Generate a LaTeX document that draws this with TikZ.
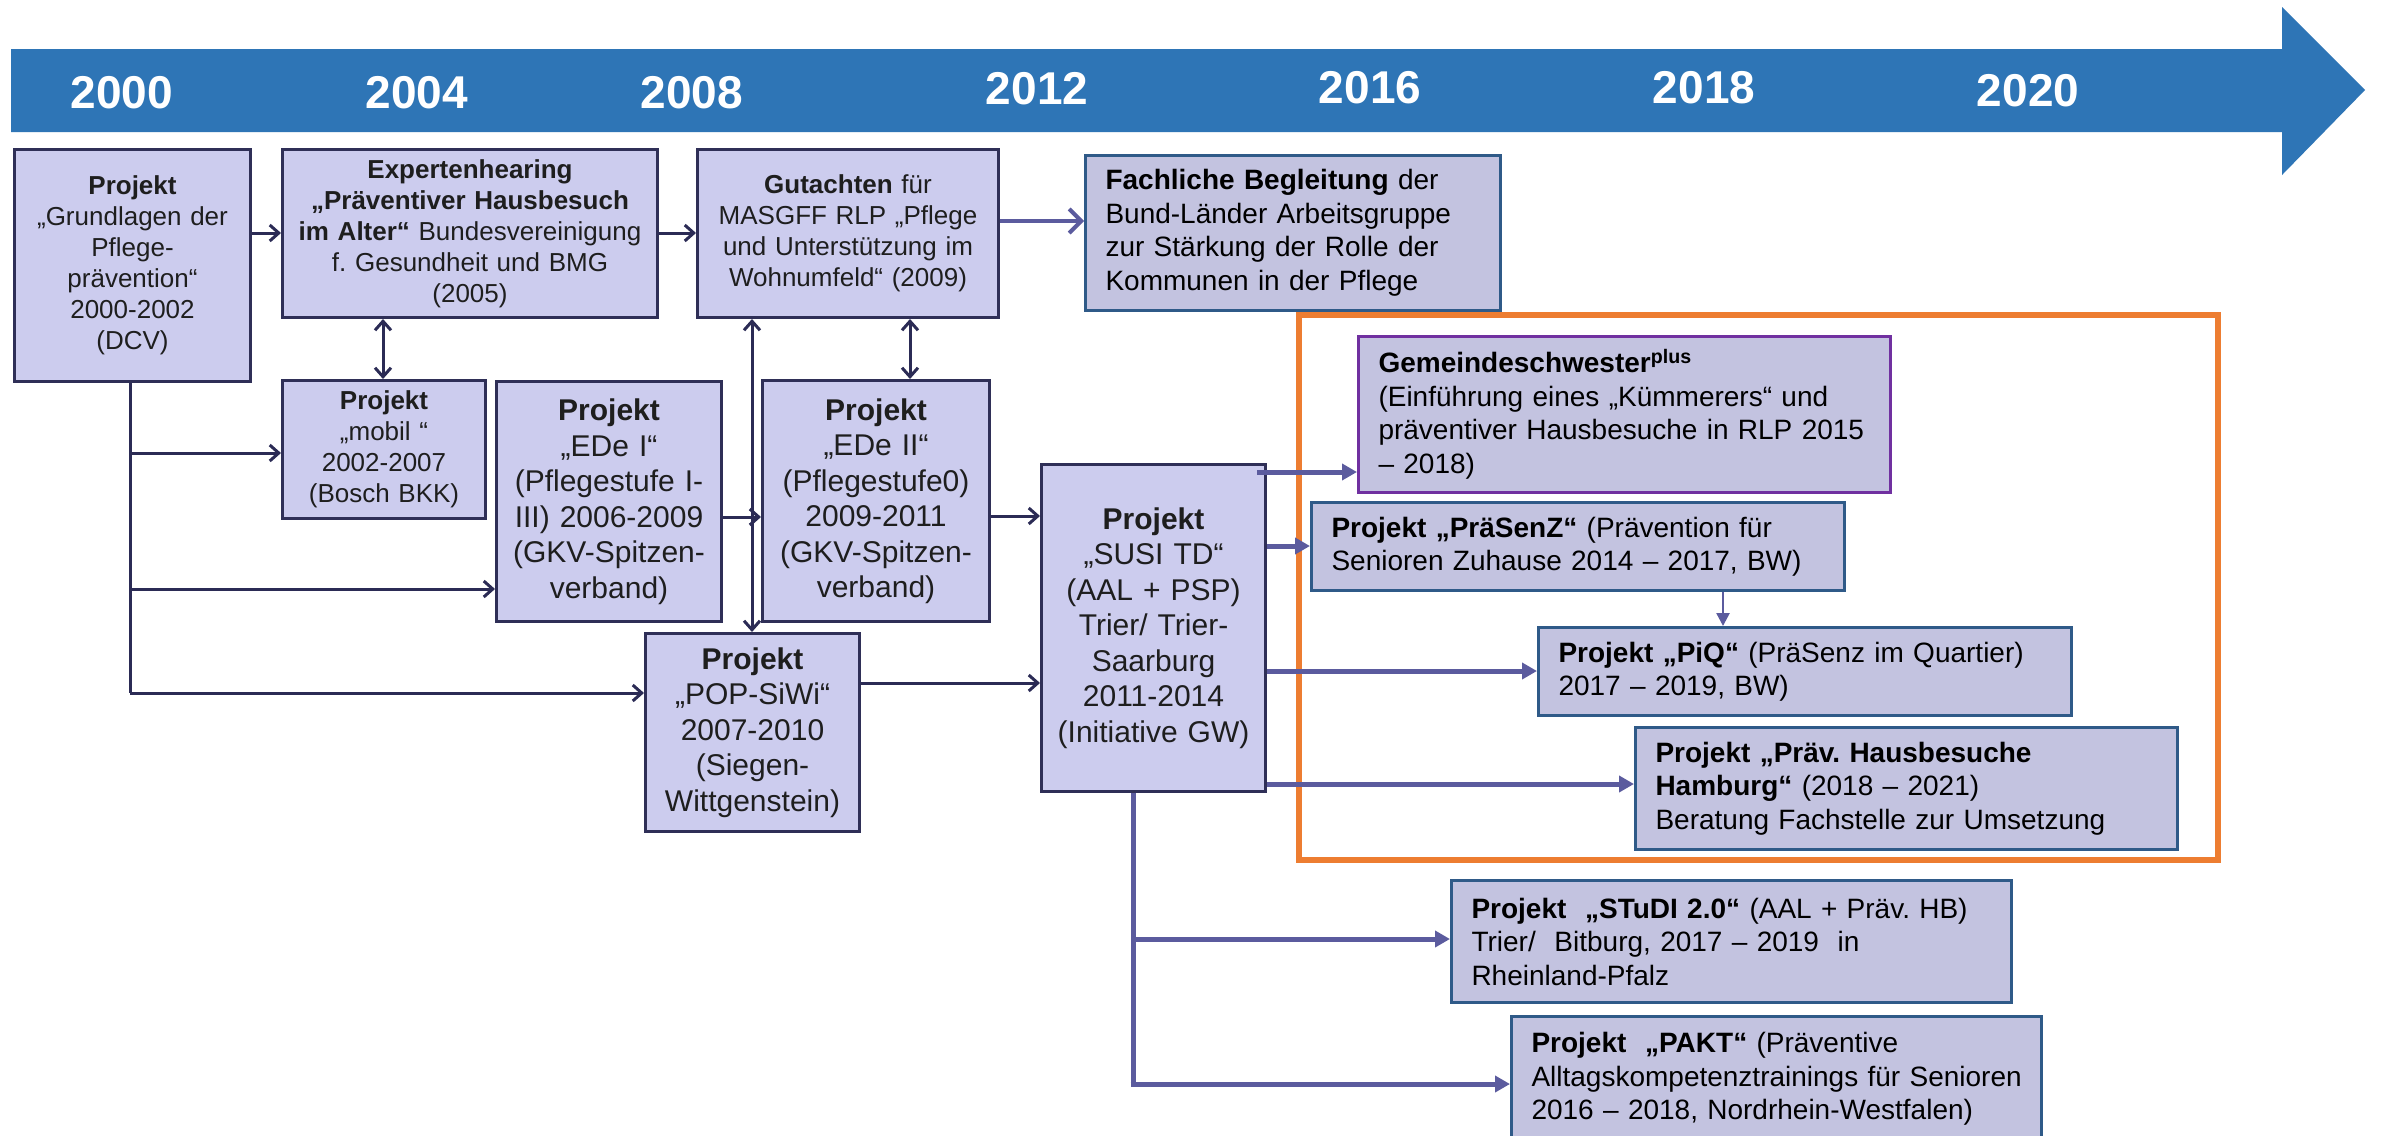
\documentclass[tikz,border=0pt]{standalone}
\usepackage{fontspec}
\setmainfont{Liberation Sans}
\usetikzlibrary{arrows.meta}
\frenchspacing
\hyphenpenalty=10000
\definecolor{banner}{HTML}{2E75B6}
\definecolor{oldfill}{HTML}{CCCCEE}
\definecolor{oldborder}{HTML}{2F2F57}
\definecolor{oldtext}{HTML}{1E1E1E}
\definecolor{oldline}{HTML}{2B2B55}
\definecolor{newfill}{HTML}{C3C3E0}
\definecolor{newborder}{HTML}{2F5A88}
\definecolor{purpleborder}{HTML}{7030A0}
\definecolor{orangeframe}{HTML}{ED7D31}
\definecolor{newline}{HTML}{5B5B9E}
\tikzset{
  year/.style={text=white, inner sep=0pt, font=\fontsize{46pt}{46pt}\selectfont\bfseries},
  oldbox/.style={draw=oldborder, line width=3pt, fill=oldfill, text=oldtext, inner sep=0pt,
    align=center, anchor=north west, font=\fontsize{26pt}{31pt}\selectfont},
  bigbox/.style={oldbox, font=\fontsize{30pt}{35.5pt}\selectfont},
  newbox/.style={draw=newborder, line width=3pt, fill=newfill, text=black, inner xsep=20pt,
    inner ysep=0pt, align=left, anchor=north west, font=\fontsize{28pt}{33.5pt}\selectfont},
  oldarrow/.style={draw=oldline, line width=3pt, -{Straight Barb[length=9pt,width=16pt]}},
  oldboth/.style={draw=oldline, line width=3pt, {Straight Barb[length=9pt,width=16pt]}-{Straight Barb[length=9pt,width=16pt]}},
  oldline/.style={draw=oldline, line width=3pt},
  cdarrow/.style={draw=newline, line width=4pt, -{Straight Barb[length=12pt,width=24pt]}},
  newarrow/.style={draw=newline, line width=5pt, -{Triangle[length=15pt,width=16pt]}},
  newlinestyle/.style={draw=newline, line width=5pt},
  thinarrow/.style={draw=newline, line width=2.5pt, -{Triangle[length=13pt,width=13pt]}},
  frame/.style={draw=orangeframe, line width=6pt}
}
\begin{document}
\begin{tikzpicture}[x=1pt,y=-1pt]
\useasboundingbox (0,0) rectangle (2384,1135);
\fill[white] (0,0) rectangle (2384,1135);

% timeline banner
\fill[banner] (11,49) -- (2282,49) -- (2282,7) -- (2365,90) -- (2282,175) -- (2282,132) -- (11,132) -- cycle;
\node[year] (y2000) at (122,93) {2000};
\node[year] (y2004) at (417,93) {2004};
\node[year] (y2008) at (692,93) {2008};
\node[year] (y2012) at (1037,89) {2012};
\node[year] (y2016) at (1370,88) {2016};
\node[year] (y2018) at (1704,88) {2018};
\node[year] (y2020) at (2028,91) {2020};

% orange frame
\draw[frame] (1299,315) rectangle (2218,860);

% old boxes
\node[oldbox, minimum width=236, minimum height=232, text width=232] (A) at (13,148)
  {\textbf{Projekt}\\„Grundlagen der\\Pflege-\\prävention“\\2000-2002\\(DCV)};
\node[oldbox, minimum width=375, minimum height=168, text width=371] (B) at (281,148)
  {\textbf{Expertenhearing}\\\textbf{„Präventiver Hausbesuch}\\\textbf{im Alter“} Bundesvereinigung\\f. Gesundheit und BMG\\(2005)};
\node[oldbox, minimum width=301, minimum height=168, text width=297] (C) at (696,148)
  {\textbf{Gutachten} für\\MASGFF RLP „Pflege\\und Unterstützung im\\Wohnumfeld“ (2009)};
\node[oldbox, minimum width=203, minimum height=138, text width=199] (E) at (281,379)
  {\textbf{Projekt}\\„mobil “\\2002-2007\\(Bosch BKK)};
\node[bigbox, minimum width=225, minimum height=240, text width=221] (F) at (495,380)
  {\textbf{Projekt}\\„EDe I“\\(Pflegestufe I-\\III) 2006-2009\\(GKV-Spitzen-\\verband)};
\node[bigbox, minimum width=227, minimum height=241, text width=223] (G) at (761,379)
  {\textbf{Projekt}\\„EDe II“\\(Pflegestufe0)\\2009-2011\\(GKV-Spitzen-\\verband)};
\node[bigbox, minimum width=214, minimum height=198, text width=210] (H) at (644,632)
  {\textbf{Projekt}\\„POP-SiWi“\\2007-2010\\(Siegen-\\Wittgenstein)};
\node[bigbox, minimum width=224, minimum height=327, text width=220] (I) at (1040,463)
  {\textbf{Projekt}\\„SUSI TD“\\(AAL + PSP)\\Trier/ Trier-\\Saarburg\\2011-2014\\(Initiative GW)};

% new boxes
\node[newbox, minimum width=415, minimum height=155, text width=375] (D) at (1084,154)
  {\textbf{Fachliche Begleitung} der\\Bund-Länder Arbeitsgruppe\\zur Stärkung der Rolle der\\Kommunen in der Pflege};
\node[newbox, draw=purpleborder, minimum width=532, minimum height=156, text width=492] (Gem) at (1357,335)
  {\textbf{Gemeindeschwester\textsuperscript{plus}}\\(Einführung eines „Kümmerers“ und\\\mbox{präventiver Hausbesuche in RLP 2015}\\– 2018)};
\node[newbox, minimum width=533, minimum height=88, text width=493] (Praesenz) at (1310,501)
  {\textbf{Projekt „PräSenZ“} (Prävention für\\Senioren Zuhause 2014 – 2017, BW)};
\node[newbox, minimum width=533, minimum height=88, text width=493] (PiQ) at (1537,626)
  {\textbf{Projekt „PiQ“} (PräSenz im Quartier)\\2017 – 2019, BW)};
\node[newbox, minimum width=542, minimum height=122, text width=502] (Hamburg) at (1634,726)
  {\textbf{Projekt „Präv. Hausbesuche}\\\textbf{Hamburg“} (2018 – 2021)\\Beratung Fachstelle zur Umsetzung};
\node[newbox, minimum width=560, minimum height=122, text width=520] (Studi) at (1450,879)
  {\mbox{\textbf{Projekt\ \ „STuDI 2.0“} (AAL + Präv. HB)}\\Trier/\ \ Bitburg, 2017 – 2019\ \ in\\Rheinland-Pfalz};
\node[newbox, minimum width=530, minimum height=125, text width=490] (Pakt) at (1510,1015)
  {\textbf{Projekt\ \ „PAKT“} (Präventive\\\mbox{Alltagskompetenztrainings für Senioren}\\\mbox{2016 – 2018, Nordrhein-Westfalen)}};

% old connectors
\draw[oldarrow] (A.east |- 0,233) -- (B.west |- 0,233);
\draw[oldarrow] (B.east |- 0,233) -- (C.west |- 0,233);
\draw[cdarrow] (C.east |- 0,221) -- (D.west |- 0,221);
\draw[oldboth] (B.south -| 383,0) -- (E.north -| 383,0);
\draw[oldboth] (C.south -| 910,0) -- (G.north -| 910,0);
\draw[oldboth] (C.south -| 752,0) -- (H.north -| 752,0);
\coordinate (ta) at (130,453);
\coordinate (tb) at (130,589);
\coordinate (tc) at (130,693);
\draw[oldline] (A.south -| tc) -- (tc);
\draw[oldarrow] (tc) -- (H.west |- tc);
\draw[oldarrow] (ta) -- (E.west |- ta);
\draw[oldarrow] (tb) -- (F.west |- tb);
\draw[oldarrow] (F.east |- 0,517) -- (G.west |- 0,517);
\draw[oldarrow] (G.east |- 0,516) -- (I.west |- 0,516);
\draw[oldarrow] (H.east |- 0,683) -- (I.west |- 0,683);

% new connectors
\draw[newarrow] ([xshift=-10pt]I.east |- 0,472) -- (Gem.west |- 0,472);
\draw[newarrow] (I.east |- 0,546) -- (Praesenz.west |- 0,546);
\draw[newarrow] (I.east |- 0,671) -- (PiQ.west |- 0,671);
\draw[newarrow] (I.east |- 0,784) -- (Hamburg.west |- 0,784);
\coordinate (sa) at (1133,939);
\coordinate (sb) at (1133,1084);
\draw[newlinestyle] (I.south -| sb) -- (sb);
\draw[newarrow] (sa) -- (Studi.west |- sa);
\draw[newarrow] ([xshift=-2.5pt]sb) -- (Pakt.west |- sb);
\draw[thinarrow] (Praesenz.south -| 1723,0) -- (PiQ.north -| 1723,0);
\end{tikzpicture}
\end{document}
